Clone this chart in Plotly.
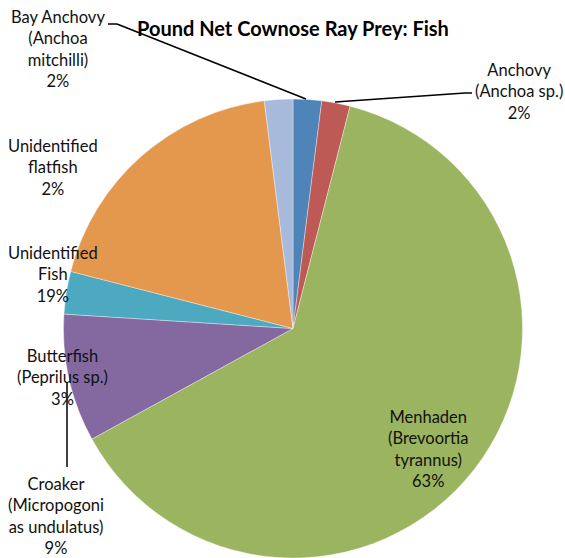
import plotly.graph_objects as go

W, H = 565, 558

categories = ["Bay Anchovy (Anchoa mitchilli)", "Anchovy (Anchoa sp.)",
              "Menhaden (Brevoortia tyrannus)", "Croaker (Micropogonias undulatus)",
              "Butterfish (Peprilus sp.)", "Unidentified Fish", "Unidentified flatfish"]
values = [2, 2, 63, 9, 3, 19, 2]
colors = ["#4F84B9", "#BD5A55", "#9BB45F", "#8369A0", "#4CA9C0", "#E4984E", "#A7BADB"]

# label texts as displayed in the reference (Excel placement)
label_texts = [
    "Bay Anchovy<br>(Anchoa<br>mitchilli)<br>2%",
    "Anchovy<br>(Anchoa sp.)<br>2%",
    "Menhaden<br>(Brevoortia<br>tyrannus)<br>63%",
    "Croaker<br>(Micropogoni<br>as undulatus)<br>9%",
    "Butterfish<br>(Peprilus sp.)<br>3%",
    "Unidentified<br>Fish<br>19%",
    "Unidentified<br>flatfish<br>2%",
]
label_pos = [(58, 49), (519, 91), (428, 449), (56, 516), (62, 377), (53, 274), (53, 167)]

title = "Pound Net Cownose Ray Prey: Fish"

def px(x, y):
    return x / W, 1 - y / H

fig = go.Figure()
fig.add_trace(go.Pie(
    labels=categories, values=values, sort=False, direction="clockwise", rotation=0,
    marker=dict(colors=colors, line=dict(color="rgba(255,255,255,0.6)", width=0.6)),
    textinfo="none", hoverinfo="label+percent", showlegend=False,
    domain=dict(x=[0.1124, 0.9248], y=[0.0, 0.8226]),
))

font = dict(family="Lato, Calibri, sans-serif", size=16.5, color="#111111")
annotations = []
for t, (x, y) in zip(label_texts, label_pos):
    ax, ay = px(x, y)
    annotations.append(dict(text=t, x=ax, y=ay, xref="paper", yref="paper",
                            showarrow=False, font=font, align="center",
                            xanchor="center", yanchor="middle"))
tx, ty = px(293, 28)
annotations.append(dict(text="<b>" + title + "</b>", x=tx, y=ty, xref="paper", yref="paper",
                        showarrow=False, font=dict(family="Lato, Calibri, sans-serif", size=20, color="#000000"),
                        xanchor="center", yanchor="middle"))

leaders = [
    [(108, 24), (117, 24), (306, 99)],
    [(472, 93), (465, 93), (335, 102)],
    [(67, 383), (67, 467)],
]
shapes = []
for pts in leaders:
    for (x0, y0), (x1, y1) in zip(pts[:-1], pts[1:]):
        a0, b0 = px(x0, y0)
        a1, b1 = px(x1, y1)
        shapes.append(dict(type="line", xref="paper", yref="paper", x0=a0, y0=b0, x1=a1, y1=b1,
                           line=dict(color="#000000", width=1.5)))

fig.update_layout(width=W, height=H, margin=dict(l=0, r=0, t=0, b=0),
                  paper_bgcolor="white", plot_bgcolor="white",
                  annotations=annotations, shapes=shapes)
fig.write_html("out.html", config={"displayModeBar": False},
               post_script="document.body.style.margin='0';document.body.style.overflow='hidden';")
